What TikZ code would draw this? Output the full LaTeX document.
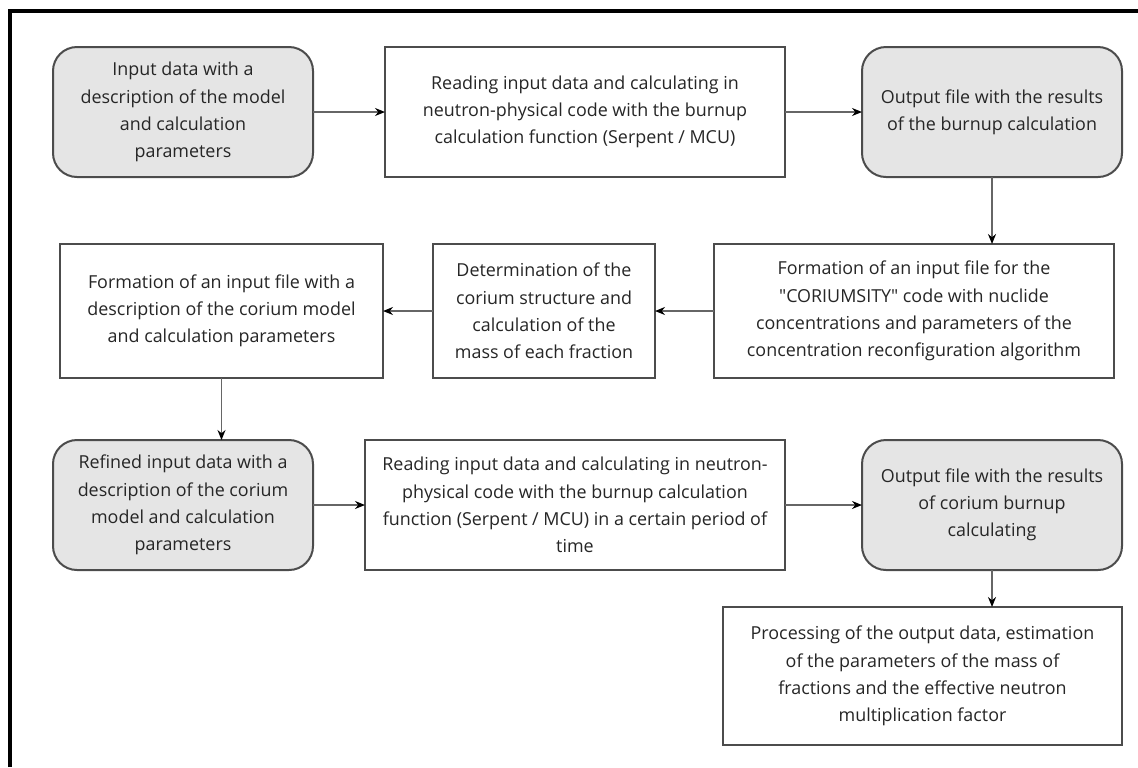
\documentclass[tikz,border=0pt]{standalone}
\usepackage{fontspec}
\newfontfamily\boxfont{Open Sans}
\usetikzlibrary{arrows.meta, positioning}

\begin{document}
\begin{tikzpicture}[
    x=0.5pt, y=-0.5pt,
    >=Stealth,
    box/.style={draw=black!70, line width=1pt, align=center, inner sep=0pt,
                outer sep=0pt, text=black!85,
                font=\boxfont\fontsize{8.95}{13.6}\selectfont},
    block/.style={box, fill=white},
    result/.style={box, fill=black!10, rounded corners=12pt,
                   minimum width=130pt, minimum height=65pt},
    flow/.style={->, draw=black!60, line width=0.7pt,
                 arrows={-Stealth[length=5pt, width=4pt, black]}}
  ]
  \useasboundingbox (0,0) rectangle (1138,767);
  % frame
  \draw[line width=2.2pt] (10,767) -- (10,11) -- (1138,11);

  % first row
  \node[result] (indata) at (183,112)
    {Input data with a\\ description of the model\\ and calculation\\ parameters};
  \node[block, minimum width=200pt, minimum height=65pt, right=36pt of indata] (read)
    {Reading input data and calculating in\\ neutron-physical code with the burnup\\ calculation function (Serpent / MCU)};
  \node[result, right=38.5pt of read] (outfile)
    {Output file with the results\\ of the burnup calculation};

  % second row
  \node[block, minimum width=200pt, minimum height=67pt,
        below=33.5pt of outfile.south east, anchor=north east, xshift=-4pt] (corinput)
    {Formation of an input file for the\\ "CORIUMSITY" code with nuclide\\ concentrations and parameters of the\\ concentration reconfiguration algorithm};
  \node[block, minimum width=111pt, minimum height=67pt, left=29.5pt of corinput] (struct)
    {Determination of the\\ corium structure and\\ calculation of the\\ mass of each fraction};
  \node[block, minimum width=161.5pt, minimum height=67pt, left=25pt of struct] (modfile)
    {Formation of an input file with a\\ description of the corium model\\ and calculation parameters};

  % third row
  \node[result, below=31pt of modfile.south west, anchor=north west, xshift=-3.5pt] (refined)
    {Refined input data with a\\ description of the corium\\ model and calculation\\ parameters};
  \node[block, minimum width=210pt, minimum height=65pt, right=26pt of refined] (readtime)
    {Reading input data and calculating in neutron-\\ physical code with the burnup calculation\\ function (Serpent / MCU) in a certain period of\\ time};
  \node[result, right=38.5pt of readtime] (corout)
    {Output file with the results\\ of corium burnup\\ calculating};
  \node[block, minimum width=199.5pt, minimum height=69pt,
        below=18.5pt of corout.south east, anchor=north east] (process)
    {Processing of the output data, estimation\\ of the parameters of the mass of\\ fractions and the effective neutron\\ multiplication factor};

  \draw[flow] (indata) -- (read);
  \draw[flow] (read) -- (outfile);
  \draw[flow] (outfile.south) -- (outfile.south |- corinput.north);
  \draw[flow] (corinput) -- (struct);
  \draw[flow] (struct) -- (modfile);
  \draw[flow] (modfile.south) -- (modfile.south |- refined.north);
  \draw[flow] (refined) -- (readtime);
  \draw[flow] (readtime) -- (corout);
  \draw[flow] (corout.south) -- (corout.south |- process.north);
\end{tikzpicture}
\end{document}
